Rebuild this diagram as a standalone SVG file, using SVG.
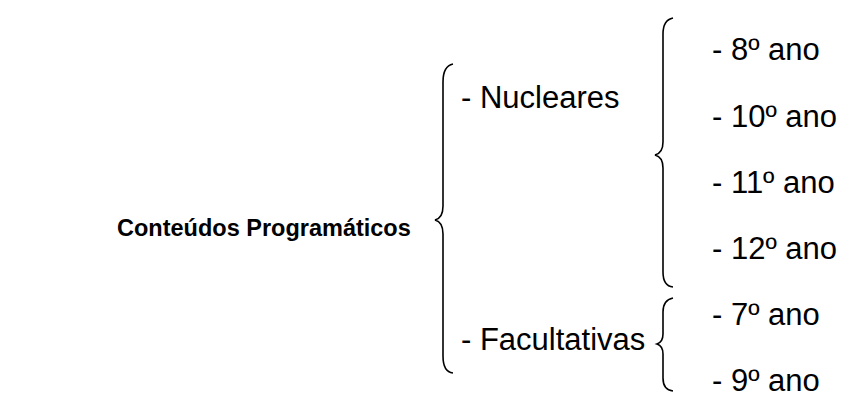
<svg xmlns="http://www.w3.org/2000/svg" width="843" height="394" viewBox="0 0 843 394">
<style>
text{font-family:"Liberation Sans",Arial,sans-serif;fill:#000}
.t{font-size:23.5px;font-weight:bold}
.i{font-size:31px}
.b{fill:none;stroke:#000;stroke-width:1.6}
</style>
<rect width="843" height="394" fill="#fff"/>
<g id="connectors">
<path class="b" d="M453,64 Q443,66 443,82 L443,206 Q443,218 435,220 Q443,222 443,234 L443,356 Q443,372 453,373"/>
<path class="b" d="M673,18 Q663,20 663,34 L663,142 Q663,153 655,155 Q663,157 663,168 L663,272 Q663,286 673,287"/>
<path class="b" d="M673,298 Q663,300 663,312 L663,334 Q663,342 657,344 Q663,346 663,354 L663,378 Q663,390 673,391"/>
</g>
<g id="root"><text class="t" x="117" y="236">Conteúdos Programáticos</text></g>
<g id="nucleares"><text class="i" x="461" y="108">- Nucleares</text></g>
<g id="facultativas"><text class="i" x="461" y="350">- Facultativas</text></g>
<g id="a8"><text class="i" x="712" y="60">- 8º ano</text></g>
<g id="a10"><text class="i" x="712" y="127">- 10º ano</text></g>
<g id="a11"><text class="i" x="712" y="193">- 11º ano</text></g>
<g id="a12"><text class="i" x="712" y="259">- 12º ano</text></g>
<g id="a7"><text class="i" x="712" y="325">- 7º ano</text></g>
<g id="a9"><text class="i" x="712" y="391">- 9º ano</text></g>
</svg>
